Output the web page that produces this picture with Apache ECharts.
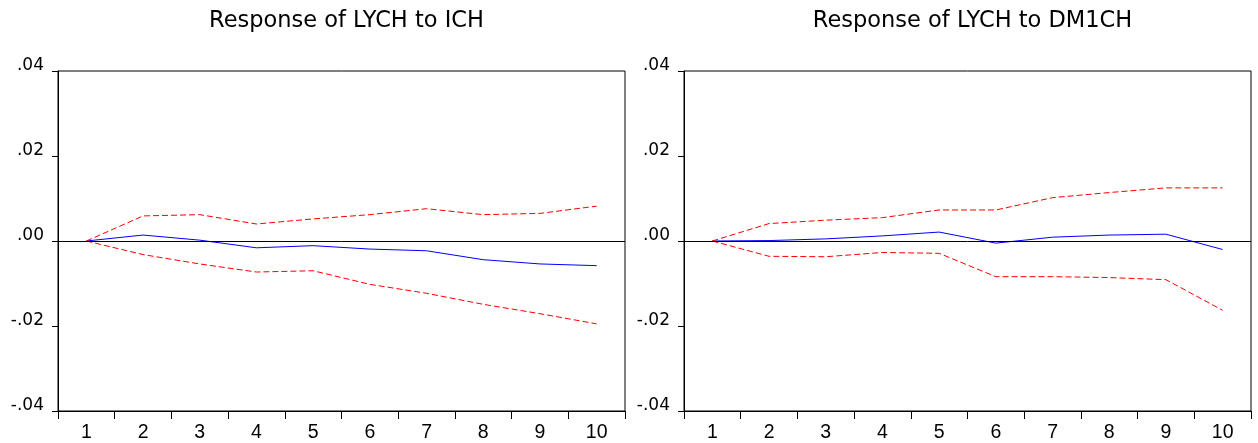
<!DOCTYPE html>
<html>
<head>
<meta charset="utf-8">
<script src="https://cdn.jsdelivr.net/npm/echarts@6/dist/echarts.min.js"></script>
<style>
html,body{margin:0;padding:0;background:#fff;}
#chart{width:1258px;height:443px;}
</style>
</head>
<body>
<div id="chart"></div>
<script>
// Data
const periods = ['1','2','3','4','5','6','7','8','9','10'];
const titles = ['Response of LYCH to ICH', 'Response of LYCH to DM1CH'];

const ichResponse = [0, 0.0014, 0.0002, -0.0016, -0.0011, -0.0019, -0.0023, -0.0044, -0.0054, -0.0058];
const ichUpper    = [0, 0.0059, 0.0062, 0.0040, 0.0052, 0.0062, 0.0076, 0.0062, 0.0065, 0.0082];
const ichLower    = [0, -0.0032, -0.0054, -0.0073, -0.0070, -0.0102, -0.0123, -0.0149, -0.0171, -0.0195];

const dm1Response = [0, 0.0001, 0.0005, 0.0012, 0.0021, -0.0005, 0.0009, 0.0014, 0.0016, -0.0020];
const dm1Upper    = [0, 0.0041, 0.0049, 0.0055, 0.0073, 0.0073, 0.0102, 0.0114, 0.0125, 0.0125];
const dm1Lower    = [0, -0.0036, -0.0037, -0.0027, -0.0029, -0.0084, -0.0084, -0.0086, -0.0091, -0.0163];

const FONT = '"Liberation Sans", Arial, Helvetica, sans-serif';
const WIDE = '"DejaVu Sans", sans-serif';

function fmt(v) {
  if (Math.abs(v) < 1e-9) return '.00';
  const s = Math.abs(v).toFixed(2).replace(/^0/, '');
  return (v < 0 ? '-' : '') + s;
}

const grids = [
  {left: 58, right: 633, top: 71, bottom: 32},
  {left: 684, right: 7, top: 71, bottom: 32}
];

const option = {
  animation: false,
  backgroundColor: '#fff',
  title: titles.map((t, i) => ({
    text: t,
    left: (grids[i].left + (1258 - grids[i].right)) / 2,
    textAlign: 'center',
    top: 5,
    textStyle: {fontFamily: WIDE, fontSize: 22.5, fontWeight: 'normal', color: '#000'}
  })),
  grid: grids.map(g => Object.assign({show: true, borderColor: '#000', borderWidth: 1, backgroundColor: 'transparent'}, g)),
  xAxis: [0, 1].map(i => ({
    type: 'category',
    gridIndex: i,
    data: periods,
    boundaryGap: true,
    axisLine: {show: true, onZero: false, lineStyle: {color: '#000', width: 1}},
    axisTick: {show: true, inside: false, length: 8, alignWithLabel: false, lineStyle: {color: '#000'}},
    axisLabel: {fontFamily: FONT, fontSize: 19.5, color: '#000', margin: 12},
    splitLine: {show: false}
  })),
  yAxis: [0, 1].map(i => ({
    type: 'value',
    gridIndex: i,
    min: -0.04,
    max: 0.04,
    interval: 0.02,
    axisLine: {show: true, lineStyle: {color: '#000', width: 1}},
    axisTick: {show: true, inside: false, length: 6, lineStyle: {color: '#000'}},
    axisLabel: {
      fontFamily: WIDE, fontSize: 17, color: '#000', margin: 14,
      verticalAlign: 'bottom', lineHeight: 10,
      formatter: fmt
    },
    splitLine: {show: false}
  })),
  series: [
    [ichResponse, ichUpper, ichLower],
    [dm1Response, dm1Upper, dm1Lower]
  ].flatMap((set, i) => [
    {
      type: 'line', xAxisIndex: i, yAxisIndex: i, data: set[0],
      symbol: 'none', lineStyle: {color: '#0000FF', width: 1}, z: 3,
      markLine: {
        silent: true, symbol: 'none', label: {show: false},
        lineStyle: {color: '#000', width: 1, type: 'solid'},
        data: [{yAxis: 0}]
      }
    },
    {
      type: 'line', xAxisIndex: i, yAxisIndex: i, data: set[1],
      symbol: 'none', lineStyle: {color: '#FF0000', width: 1, type: [6, 3]}, z: 3
    },
    {
      type: 'line', xAxisIndex: i, yAxisIndex: i, data: set[2],
      symbol: 'none', lineStyle: {color: '#FF0000', width: 1, type: [6, 3]}, z: 3
    }
  ])
};

const chart = echarts.init(document.getElementById('chart'), null, {renderer: 'canvas'});
chart.setOption(option);
</script>
</body>
</html>
